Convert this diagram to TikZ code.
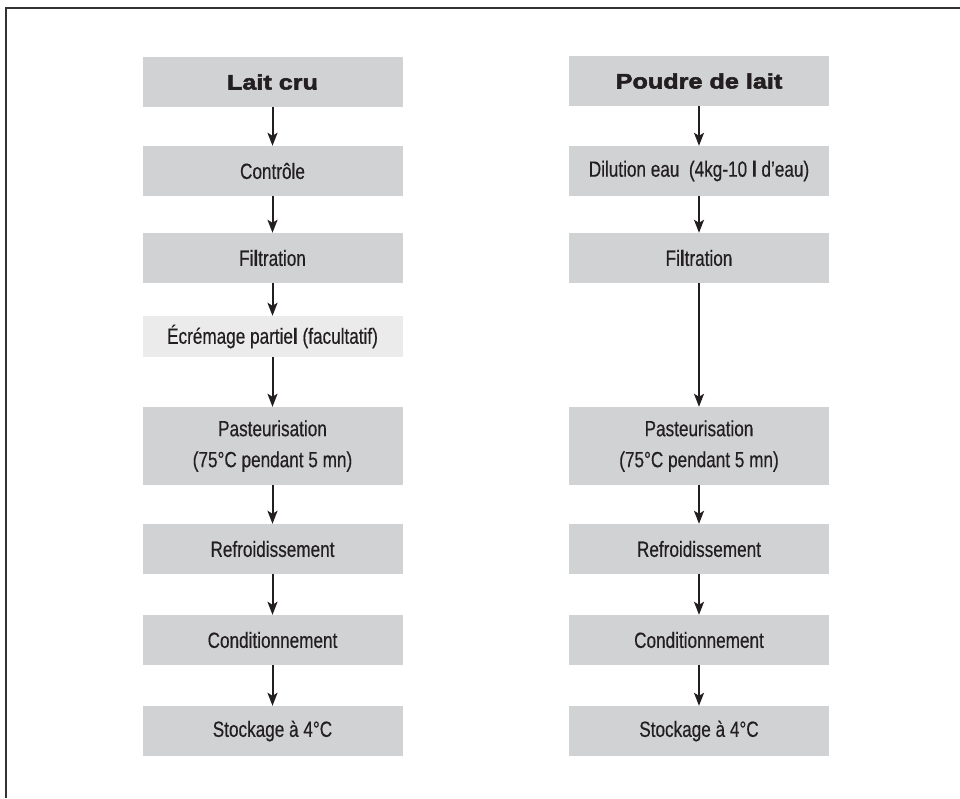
\documentclass[tikz,border=0pt]{standalone}
\usepackage{fontspec}
\setmainfont[FakeStretch=0.78, FakeBold=0.4]{Liberation Sans}
\newfontfamily\titlefont[FakeStretch=1.2, BoldFeatures={FakeBold=2.5}]{Liberation Sans}
\usetikzlibrary{arrows.meta}
\definecolor{boxgray}{HTML}{D1D2D4}
\definecolor{boxlight}{HTML}{EBEBEC}
\definecolor{ink}{HTML}{231F20}
\definecolor{framegray}{HTML}{333333}
\begin{document}
\begin{tikzpicture}[x=1pt,y=-1pt,
  stepbox/.style={fill=boxgray, minimum width=260pt, minimum height=50pt, inner sep=0pt,
    text=ink, font=\fontsize{22}{31}\selectfont, align=center},
  titlebox/.style={stepbox, font=\titlefont\fontsize{21}{24}\selectfont\bfseries},
  arr/.style={draw=ink, line width=2pt, -{Stealth[length=13pt,width=10pt,inset=3pt]}}]
\useasboundingbox (0,0) rectangle (960,798);
\draw[framegray, line width=2pt] (6,798) -- (6,8) -- (960,8);

% left column
\node[titlebox] (l1) at (272.5,82) {Lait cru};
\node[stepbox] (l2) at (272.5,171) {Contrôle};
\node[stepbox] (l3) at (272.5,258) {Fi\textbf{l}tration};
\node[stepbox, fill=boxlight, minimum height=41pt] (l4) at (272.5,336.5) {Écrémage partie\textbf{l} (facultatif)};
\node[stepbox, minimum height=78pt] (l5) at (272.5,446) {Pasteurisation\\(75°C pendant 5 mn)};
\node[stepbox] (l6) at (272.5,549) {Refroidissement};
\node[stepbox] (l7) at (272.5,640) {Conditionnement};
\node[stepbox] (l8) at (272.5,731) {Stockage à 4°C};

% right column
\node[titlebox] (r1) at (699,81) {Poudre de lait};
\node[stepbox] (r2) at (699,171) {Dilution eau\ \ (4kg-10 \textbf{l} d'eau)};
\node[stepbox] (r3) at (699,258) {Fi\textbf{l}tration};
\node[stepbox, minimum height=78pt] (r5) at (699,446) {Pasteurisation\\(75°C pendant 5 mn)};
\node[stepbox] (r6) at (699,549) {Refroidissement};
\node[stepbox] (r7) at (699,640) {Conditionnement};
\node[stepbox] (r8) at (699,731) {Stockage à 4°C};

\foreach \a/\b in {l1/l2,l2/l3,l3/l4,l4/l5,l5/l6,l6/l7,l7/l8,r1/r2,r2/r3,r3/r5,r5/r6,r6/r7,r7/r8}
  \draw[arr] (\a.south) -- (\b.north);
\end{tikzpicture}
\end{document}
